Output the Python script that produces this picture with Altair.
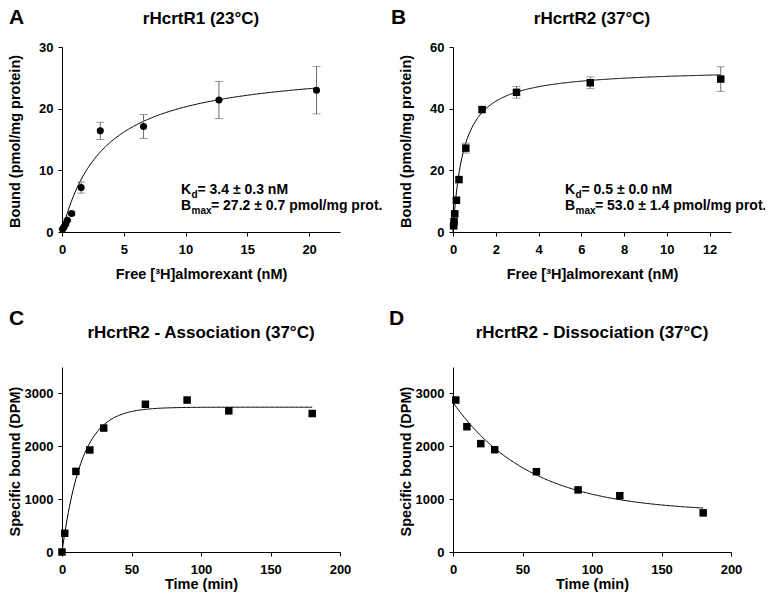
import altair as alt
import numpy as np
import pandas as pd

FONT = "Liberation Sans"

# ---------------- data ----------------
# Panel A: rHcrtR1 saturation (23 °C)
a_free = [0.05, 0.16, 0.30, 0.43, 0.78, 1.55, 3.1, 6.6, 12.7, 20.6]
a_bound = [0.5, 0.8, 1.3, 1.9, 3.0, 7.2, 16.4, 17.1, 21.4, 23.0]
a_err = [0.1, 0.1, 0.2, 0.2, 0.3, 0.9, 1.4, 1.95, 3.0, 3.85]
a_kd, a_bmax = 3.4, 27.2

# Panel B: rHcrtR2 saturation (37 °C)
b_free = [0.03, 0.05, 0.08, 0.16, 0.28, 0.60, 1.36, 2.97, 6.42, 12.52]
b_bound = [2.0, 3.4, 5.9, 10.3, 17.0, 27.2, 39.7, 45.3, 48.4, 49.6]
b_err = [0.2, 0.3, 0.4, 0.5, 0.8, 1.6, 0.9, 1.9, 1.9, 4.0]
b_kd, b_bmax = 0.5, 53.0

# Panel C: association (37 °C)
c_time = [0, 2, 10, 20, 30, 60, 90, 120, 180]
c_dpm = [0, 355, 1525, 1930, 2345, 2795, 2875, 2670, 2620]
c_plateau, c_kobs = 2740, 0.07

# Panel D: dissociation (37 °C)
d_time = [2, 10, 20, 30, 60, 90, 120, 180]
d_dpm = [2875, 2370, 2050, 1935, 1520, 1175, 1065, 740]
d_span, d_plateau, d_koff = 2080, 750, 0.018

# ---------------- helpers ----------------
def lab_axis(values, major, title, title_x, title_y, orient):
    test = f"abs(datum.value % {major}) < 1e-6"
    return alt.Axis(
        values=values,
        title=title,
        orient=orient,
        format="d",
        grid=False,
        labelExpr=f"{test} ? datum.label : ''",
        tickSize={"condition": {"test": test, "value": 4}, "value": 3},
        tickColor="black",
        tickWidth=1,
        domainColor="black",
        domainWidth=1,
        labelFont=FONT,
        labelFontSize=13,
        labelFontWeight="bold",
        labelColor="black",
        labelPadding=5 if orient == "left" else 7,
        labelOverlap=False,
        labelFlush=False,
        titleFont=FONT,
        titleFontSize=14.5,
        titleFontWeight="bold",
        titleColor="black",
        titleX=title_x,
        titleY=title_y,
    )


def text_layer(txt, dx, dy, fs, align="left"):
    return alt.Chart(pd.DataFrame({"t": [txt]})).mark_text(
        font=FONT, fontSize=fs, fontWeight="bold", align=align,
        baseline="alphabetic", color="black"
    ).encode(text="t:N", x=alt.value(dx), y=alt.value(dy))


def panel(df_pts, df_fit, xfield, yfield, xdom, ydom, xvals, xmajor, yvals, ymajor,
          xtitle, ytitle, title, title_dy, letter, letter_dx, letter_dy,
          shape, size, err=None, notes=None, xtitle_y=35):
    W, H = 278, 185
    xs = alt.Scale(domain=xdom, nice=False, zero=False)
    ys = alt.Scale(domain=ydom, nice=False, zero=False)
    xax = lab_axis(xvals, xmajor, xtitle, W / 2, xtitle_y, "bottom")
    yax = lab_axis(yvals, ymajor, ytitle, -39.5, 94, "left")

    fit = alt.Chart(df_fit).mark_line(color="black", strokeWidth=1).encode(
        x=alt.X("x:Q", scale=xs, axis=xax),
        y=alt.Y("y:Q", scale=ys, axis=yax),
    )
    layers = [fit]
    if err is not None:
        layers.append(
            alt.Chart(df_pts).mark_rule(color="#707070", strokeWidth=1).encode(
                x=alt.X(f"{xfield}:Q", scale=xs),
                y=alt.Y("lo:Q", scale=ys),
                y2="hi:Q",
            )
        )
        for cap in ("lo", "hi"):
            layers.append(
                alt.Chart(df_pts).mark_tick(color="#707070", thickness=1, size=8, orient="horizontal").encode(
                    x=alt.X(f"{xfield}:Q", scale=xs),
                    y=alt.Y(f"{cap}:Q", scale=ys),
                )
            )
    layers.append(
        alt.Chart(df_pts).mark_point(shape=shape, filled=True, color="black", opacity=1, size=size).encode(
            x=alt.X(f"{xfield}:Q", scale=xs),
            y=alt.Y(f"{yfield}:Q", scale=ys),
        )
    )
    # panel letter and panel title
    layers.append(text_layer(letter, letter_dx, letter_dy, 21))
    layers.append(text_layer(title, W / 2, title_dy, 17, align="center"))
    if notes is not None:
        for txt, dx, dy, fs in notes:
            layers.append(text_layer(txt, dx, dy, fs))
    return alt.layer(*layers).properties(width=W, height=H)


# ---------------- tables ----------------
dfa = pd.DataFrame({"free": a_free, "bound": a_bound, "err": a_err})
dfa["lo"] = dfa["bound"] - dfa["err"]
dfa["hi"] = dfa["bound"] + dfa["err"]
xa = np.linspace(0, max(a_free), 200)
fita = pd.DataFrame({"x": xa, "y": a_bmax * xa / (a_kd + xa)})

dfb = pd.DataFrame({"free": b_free, "bound": b_bound, "err": b_err})
dfb["lo"] = dfb["bound"] - dfb["err"]
dfb["hi"] = dfb["bound"] + dfb["err"]
xb = np.linspace(0, max(b_free), 300)
fitb = pd.DataFrame({"x": xb, "y": b_bmax * xb / (b_kd + xb)})

dfc = pd.DataFrame({"time": c_time, "dpm": c_dpm})
xc = np.linspace(0, 180, 200)
fitc = pd.DataFrame({"x": xc, "y": c_plateau * (1 - np.exp(-c_kobs * xc))})

dfd = pd.DataFrame({"time": d_time, "dpm": d_dpm})
xd = np.linspace(0, 180, 200)
fitd = pd.DataFrame({"x": xd, "y": d_plateau + d_span * np.exp(-d_koff * xd)})

free_title = "Free [³H]almorexant (nM)"
bound_title = "Bound (pmol/mg protein)"

def kd_notes(kd_txt, bmax_txt, x0):
    return [
        ("K", x0, 147, 14),
        ("d", x0 + 10.5, 151, 10),
        (kd_txt, x0 + 16.5, 147, 14),
        ("B", x0, 163, 14),
        ("max", x0 + 10.5, 167, 10),
        (bmax_txt, x0 + 30, 163, 14),
    ]

A = panel(dfa, fita, "free", "bound", [0, 22.5], [0, 30],
          [i * 2.5 for i in range(10)], 5, [i * 5 for i in range(7)], 10,
          free_title, bound_title, "rHcrtR1 (23°C)", -23, "A", -53, -23.5,
          "circle", 50, err=True,
          notes=kd_notes(" = 3.4 ± 0.3 nM", " = 27.2 ± 0.7 pmol/mg prot.", 119))

B = panel(dfb, fitb, "free", "bound", [0, 13], [0, 60],
          list(range(14)), 2, [i * 10 for i in range(7)], 20,
          free_title, bound_title, "rHcrtR2 (37°C)", -23, "B", -62, -23.5,
          "square", 56, err=True,
          notes=kd_notes(" = 0.5 ± 0.0 nM", " = 53.0 ± 1.4 pmol/mg prot.", 112))

C = panel(dfc, fitc, "time", "dpm", [0, 200], [0, 3500],
          [i * 25 for i in range(9)], 50, [i * 500 for i in range(8)], 1000,
          "Time (min)", "Specific bound (DPM)", "rHcrtR2 - Association (37°C)", -29,
          "C", -53, -42, "square", 56, xtitle_y=25)

D = panel(dfd, fitd, "time", "dpm", [0, 200], [0, 3500],
          [i * 25 for i in range(9)], 50, [i * 500 for i in range(8)], 1000,
          "Time (min)", "Specific bound (DPM)", "rHcrtR2 - Dissociation (37°C)", -29,
          "D", -64, -42, "square", 56, xtitle_y=25)

chart = alt.concat(
    A, B, C, D, columns=2, spacing={"row": 135, "column": 113}, bounds="flush"
).properties(
    autosize=alt.AutoSizeParams(type="none"),
    padding={"left": 54, "top": 39, "right": 703, "bottom": 545},
).configure_view(stroke=None)

chart.save("out.html", embed_options={"renderer": "svg", "actions": False})
